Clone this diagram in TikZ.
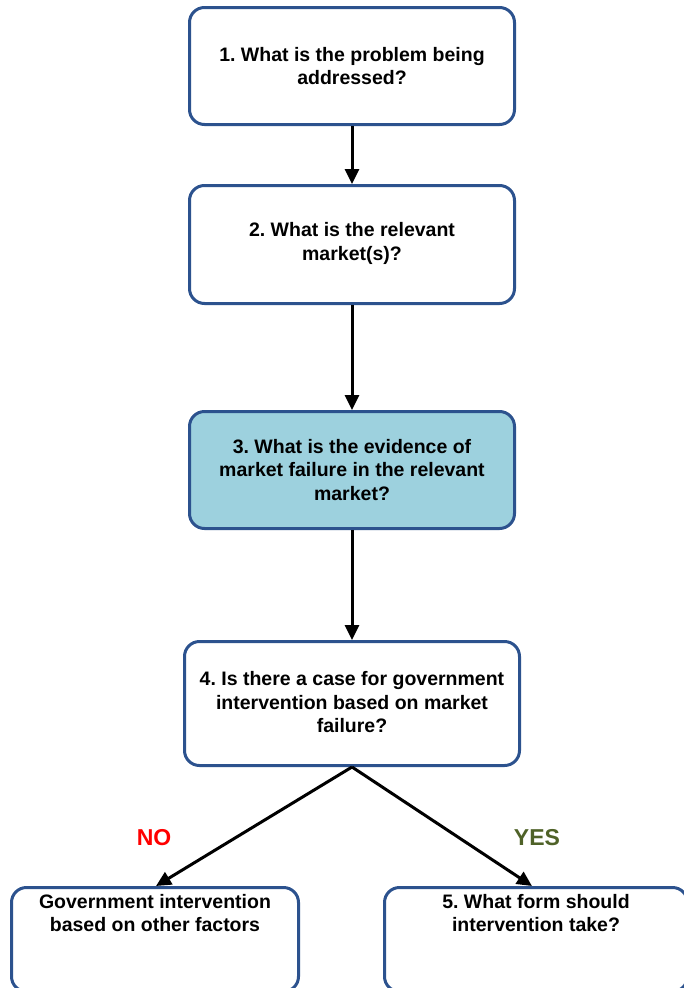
\documentclass[tikz,border=0pt]{standalone}
\usepackage{fontspec}
\setmainfont{Liberation Sans}
\usetikzlibrary{arrows.meta}
\frenchspacing
\definecolor{bordblue}{RGB}{44,82,142}
\definecolor{boxfill}{RGB}{157,209,222}
\definecolor{nored}{RGB}{255,0,0}
\definecolor{yesgreen}{RGB}{79,98,40}
\tikzset{
  qbox/.style={draw=bordblue, line width=3pt, rounded corners=15pt, fill=white, anchor=north west, inner sep=0pt},
  qtext/.style={align=center, font=\bfseries\fontsize{19.5}{23.5}\selectfont, inner sep=0pt},
  conn/.style={line width=3pt, -{Triangle[length=15pt,width=14pt]}},
  lab/.style={font=\bfseries\fontsize{23}{27}\selectfont, inner sep=0pt}
}
\begin{document}
\begin{tikzpicture}[x=1pt,y=-1pt]
\useasboundingbox (0,0) rectangle (684,988);
\clip (0,0) rectangle (684,988);
\fill[white] (0,0) rectangle (684,988);
% boxes
\node[qbox, minimum width=325pt, minimum height=117pt] (b1) at (188,6) {};
\node[qbox, minimum width=325pt, minimum height=118pt] (b2) at (188,184) {};
\node[qbox, fill=boxfill, minimum width=325pt, minimum height=117pt] (b3) at (188,410) {};
\node[qbox, minimum width=335pt, minimum height=124pt] (b4) at (183,640) {};
\node[qbox, minimum width=287pt, minimum height=104pt] (b5) at (10,886) {};
\node[qbox, minimum width=303pt, minimum height=104pt] (b6) at (383,886) {};
% texts
\node[qtext] (t1) at (b1.center) {1. What is the problem being\\addressed?};
\node[qtext] (t2) at ([yshift=1pt]b2.center) {2. What is the relevant\\market(s)?};
\node[qtext] (t3) at ([yshift=0pt]b3.center) {3. What is the evidence of\\market failure in the relevant\\market?};
\node[qtext] (t4) at ([yshift=1pt]b4.center) {4. Is there a case for government\\intervention based on market\\failure?};
\node[qtext, anchor=north] (t5) at ([yshift=-8pt]b5.north) {Government intervention\\based on other factors};
\node[qtext, anchor=north] (t6) at ([yshift=-8pt]b6.north) {5. What form should\\intervention take?};
% connectors
\draw[conn] (b1.south) -- (b2.north);
\draw[conn] (b2.south) -- (b3.north);
\draw[conn] (b3.south) -- (b4.north);
\draw[conn] (b4.south) -- ([xshift=1pt]b5.north);
\draw[conn] (b4.south) -- ([xshift=-4pt]b6.north);
% labels
\node[lab, text=nored] (no) at (154,838) {NO};
\node[lab, text=yesgreen] (yes) at (537,838) {YES};
\end{tikzpicture}
\end{document}
